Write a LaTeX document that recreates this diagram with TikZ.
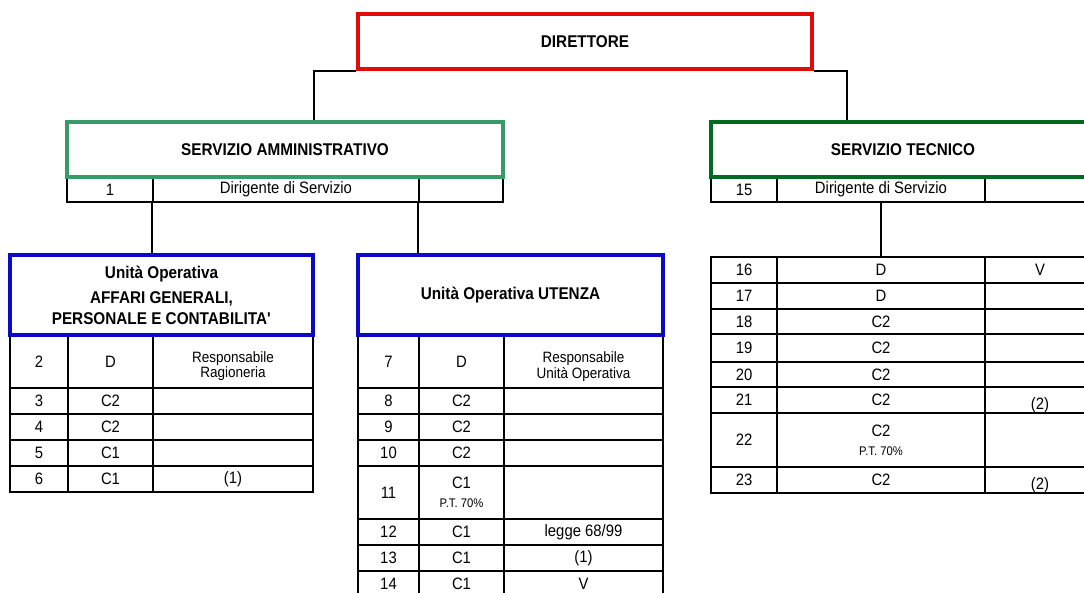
\documentclass[tikz,border=0pt]{standalone}
\usepackage{fontspec}
\setmainfont{Liberation Sans}[FakeStretch=0.9]
\usetikzlibrary{positioning,calc}
\definecolor{Rosso}{HTML}{E00B0B}
\definecolor{VerdeAmm}{HTML}{389A68}
\definecolor{VerdeTec}{HTML}{006A1E}
\definecolor{Blu}{HTML}{0A0AC8}
\newcommand{\sotto}[1]{\raisebox{-9pt}[0pt][0pt]{#1}}
\newcommand{\pt}{\fontsize{12.5}{12}\selectfont P.T. 70\%}
\newcommand{\giu}{\rule{0pt}{21pt}}
\tikzset{testa/.style={draw,line width=3.5pt,fill=white,inner sep=0pt,align=center,font=\fontsize{17}{21}\selectfont\bfseries},cella/.style={draw,line width=1.8pt,inner sep=0pt,align=center,font=\fontsize{16.5}{18}\selectfont},piccolo/.style={font=\fontsize{15}{13}\selectfont},filo/.style={line width=1.8pt}}

\begin{document}
\begin{tikzpicture}[x=1pt,y=-1pt]
\useasboundingbox (0,0) rectangle (1084,593);
\clip (0,0) rectangle (1084,593);
% righe sotto i servizi
\node[cella,minimum width=86pt,minimum height=25pt] (sa1) at (110,189.5) {1};
\node[cella,minimum width=266pt,minimum height=25pt] (sa2) at (286,189.5) {Dirigente di Servizio};
\node[cella,minimum width=84pt,minimum height=25pt] (sa3) at (461,189.5) {};
\node[cella,minimum width=66pt,minimum height=25pt] (st1) at (744,189.5) {15};
\node[cella,minimum width=208pt,minimum height=25pt] (st2) at (881,189.5) {Dirigente di Servizio};
\node[cella,minimum width=110pt,minimum height=25pt] (st3) at (1040,189.5) {};
% tabella affari generali
\node[cella,minimum width=58pt,minimum height=53pt] (ag2-a) at (39,361.5) {2};
\node[cella,minimum width=85pt,minimum height=53pt] (ag2-b) at (110.5,361.5) {D};
\node[cella,piccolo,minimum width=160pt,minimum height=53pt] (ag2-c) at (233,361.5) {\giu Responsabile\\Ragioneria};
\foreach \n/\cat/\y/\nota in {3/C2/401/{},4/C2/427/{},5/C1/453/{},6/C1/479/(1)}{
\node[cella,minimum width=58pt,minimum height=26pt] (ag\n-a) at (39,\y) {\n};
\node[cella,minimum width=85pt,minimum height=26pt] (ag\n-b) at (110.5,\y) {\cat};
\node[cella,minimum width=160pt,minimum height=26pt] (ag\n-c) at (233,\y) {\nota};
}
% tabella utenza
\node[cella,minimum width=61pt,minimum height=53pt] (ut7-a) at (388.5,361.5) {7};
\node[cella,minimum width=85pt,minimum height=53pt] (ut7-b) at (461.5,361.5) {D};
\node[cella,piccolo,minimum width=159pt,minimum height=53pt] (ut7-c) at (583.5,361.5) {\giu Responsabile\\Unità Operativa};
\foreach \n/\cat/\y/\nota in {8/C2/401/{},9/C2/427/{},10/C2/453/{},12/C1/532/{legge 68/99},13/C1/558/(1),14/C1/584/V}{
\node[cella,minimum width=61pt,minimum height=26pt] (ut\n-a) at (388.5,\y) {\n};
\node[cella,minimum width=85pt,minimum height=26pt] (ut\n-b) at (461.5,\y) {\cat};
\node[cella,minimum width=159pt,minimum height=26pt] (ut\n-c) at (583.5,\y) {\nota};
}
\node[cella,minimum width=61pt,minimum height=53pt] (ut11-a) at (388.5,492.5) {11};
\node[cella,minimum width=85pt,minimum height=53pt] (ut11-b) at (461.5,492.5) {C1\\[1pt]\pt};
\node[cella,minimum width=159pt,minimum height=53pt] (ut11-c) at (583.5,492.5) {};
% tabella servizio tecnico
\foreach \n/\cat/\y/\h/\nota in {16/D/270/26/V,17/D/296/26/{},18/C2/321.5/25/{},19/C2/348/28/{},20/C2/374.5/25/{},21/C2/400/26/\sotto{(2)},23/C2/480/26/\sotto{(2)}}{
\node[cella,minimum width=66pt,minimum height=\h pt] (tc\n-a) at (744,\y) {\n};
\node[cella,minimum width=208pt,minimum height=\h pt] (tc\n-b) at (881,\y) {\cat};
\node[cella,minimum width=110pt,minimum height=\h pt] (tc\n-c) at (1040,\y) {\nota};
}
\node[cella,minimum width=66pt,minimum height=54pt] (tc22-a) at (744,440) {22};
\node[cella,minimum width=208pt,minimum height=54pt] (tc22-b) at (881,440) {C2\\[1pt]\pt};
\node[cella,minimum width=110pt,minimum height=54pt] (tc22-c) at (1040,440) {};
% riquadri
\node[testa,draw=Rosso,minimum width=454pt,minimum height=55pt] (dir) at (585,41.5) {DIRETTORE};
\node[testa,draw=VerdeAmm,minimum width=436pt,minimum height=55pt] (sa) at (285,149.5) {SERVIZIO AMMINISTRATIVO};
\node[testa,draw=VerdeTec,minimum width=384pt,minimum height=55pt] (st) at (903,149.5) {SERVIZIO TECNICO};
\node[testa,draw=Blu,minimum width=303pt,minimum height=80pt] (ag) at (161.5,295) {Unità Operativa\\[4pt]AFFARI GENERALI,\\PERSONALE E CONTABILITA\textquotesingle};
\node[testa,draw=Blu,minimum width=305pt,minimum height=80pt] (ut) at (510.5,295) {Unità Operativa UTENZA};
% collegamenti
\draw[filo] (dir.south west) -| ([xshift=29pt]sa.north);
\draw[filo] (dir.south east) -| ([xshift=-56pt]st.north);
\draw[filo] (sa2.south west) -- (sa2.south west |- ag.north);
\draw[filo] (sa3.south west) -- (sa3.south west |- ut.north);
\draw[filo] (st2.south) -- (st2.south |- tc16-b.north);
\end{tikzpicture}
\end{document}
